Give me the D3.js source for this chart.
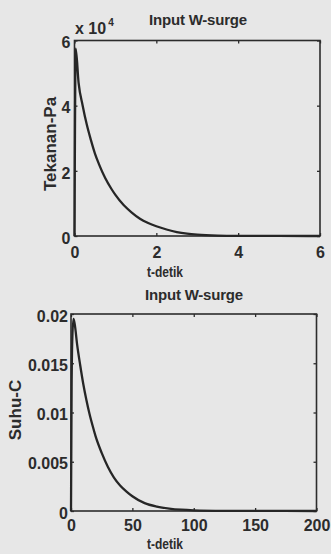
<!DOCTYPE html>
<html>
<head>
<meta charset="utf-8">
<script src="https://cdn.jsdelivr.net/npm/d3@7"></script>
<style>
  html, body { margin: 0; padding: 0; background: #e7e7e7; }
  svg { display: block; }
  text { font-family: "Liberation Sans", Arial, sans-serif; font-weight: bold; fill: #2c2c2c; }
</style>
</head>
<body>
<svg id="chart" width="331" height="554"></svg>
<script>
// Pressure response (Pa) to the W-surge input, time in seconds
const pressureTime = [0, 0.03, 0.1, 0.2, 0.3, 0.4, 0.5, 0.6, 0.75, 0.9, 1.0, 1.2, 1.4, 1.6, 1.8, 2.0, 2.25, 2.5, 2.75, 3.0, 3.5, 4.0, 5.0, 6.0];
const pressureValue = [0, 57500, 47000, 40000, 34200, 29500, 25300, 22000, 17800, 14500, 12600, 9500, 7200, 5300, 4000, 3000, 2000, 1200, 700, 400, 120, 40, 10, 0];
const pressureXTicks = [0, 2, 4, 6];
const pressureYTicks = [0, 20000, 40000, 60000];

// Temperature response (C) to the W-surge input, time in seconds
const tempTime = [0, 0.5, 1, 2, 3, 5, 7.5, 10, 12.5, 15, 17.5, 20, 25, 30, 35, 40, 45, 50, 60, 70, 80, 90, 100, 125, 150, 200];
const tempValue = [0, 0.0125, 0.0172, 0.0195, 0.019, 0.0169, 0.0148, 0.0129, 0.0113, 0.0099, 0.0087, 0.0076, 0.0059, 0.0045, 0.0034, 0.0026, 0.0020, 0.0015, 0.0008, 0.00045, 0.00025, 0.00013, 0.00007, 0.00002, 0.00001, 0];
const tempXTicks = [0, 50, 100, 150, 200];
const tempYTicks = [0, 0.005, 0.01, 0.015, 0.02];

const titleText = "Input W-surge";
const xLabelText = "t-detik";

const svg = d3.select("#chart");
const ink = "#2c2c2c";

function drawPanel(cfg) {
  const x = d3.scaleLinear().domain(cfg.xDomain).range([cfg.left, cfg.right]);
  const y = d3.scaleLinear().domain(cfg.yDomain).range([cfg.bottom, cfg.top]);
  const g = svg.append("g");

  // inward ticks on all four sides, labels on bottom and left only
  const bottomAxis = d3.axisBottom(x).tickValues(cfg.xTicks).tickSizeInner(-3).tickSizeOuter(0)
    .tickPadding(cfg.xPad).tickFormat(d => String(d));
  const leftAxis = d3.axisLeft(y).tickValues(cfg.yTicks).tickSizeInner(-3).tickSizeOuter(0)
    .tickPadding(cfg.yPad).tickFormat(cfg.yFormat);
  const topAxis = d3.axisTop(x).tickValues(cfg.xTicks).tickSizeInner(-3).tickSizeOuter(0).tickFormat("");
  const rightAxis = d3.axisRight(y).tickValues(cfg.yTicks).tickSizeInner(-3).tickSizeOuter(0).tickFormat("");

  g.append("g").attr("transform", `translate(0,${cfg.bottom})`).call(bottomAxis);
  const gl = g.append("g").attr("transform", `translate(${cfg.left},0)`).call(leftAxis);
  g.append("g").attr("transform", `translate(0,${cfg.top})`).call(topAxis);
  g.append("g").attr("transform", `translate(${cfg.right},0)`).call(rightAxis);

  g.selectAll(".domain").remove();
  g.selectAll(".tick line").attr("stroke", ink).attr("stroke-width", 1.3);
  g.selectAll(".tick text").attr("fill", ink).attr("font-size", 16)
    .attr("font-family", "Liberation Sans, Arial, sans-serif").attr("font-weight", "bold");
  gl.selectAll(".tick text").attr("dy", "0.45em");

  // axes box
  g.append("rect")
    .attr("x", cfg.left).attr("y", cfg.top)
    .attr("width", cfg.right - cfg.left).attr("height", cfg.bottom - cfg.top)
    .attr("fill", "none").attr("stroke", ink).attr("stroke-width", 1.6);

  // response curve
  const line = d3.line().x(d => x(d[0])).y(d => y(d[1])).curve(d3.curveMonotoneX);
  g.append("path")
    .datum(cfg.xs.map((t, i) => [t, cfg.ys[i]]))
    .attr("d", line)
    .attr("fill", "none").attr("stroke", "#262626").attr("stroke-width", 2.3)
    .attr("stroke-linejoin", "round");

  // title
  g.append("text").attr("x", cfg.titleX).attr("y", cfg.titleY)
    .attr("text-anchor", "middle").attr("font-size", 15).attr("letter-spacing", -0.2)
    .text(titleText);

  // x label
  g.append("text").attr("x", cfg.xLabelX).attr("y", cfg.xLabelY)
    .attr("text-anchor", "middle").attr("font-size", 15)
    .attr("textLength", 36).attr("lengthAdjust", "spacingAndGlyphs")
    .text(xLabelText);

  // y label
  g.append("text")
    .attr("transform", `translate(${cfg.yLabelX},${cfg.yLabelY}) rotate(-90)`)
    .attr("text-anchor", "middle").attr("font-size", 17)
    .text(cfg.yLabel);

  return g;
}

const pressurePanel = drawPanel({
  left: 74.5, right: 320, top: 40.5, bottom: 236,
  xDomain: [0, 6], yDomain: [0, 60000],
  xTicks: pressureXTicks, yTicks: pressureYTicks,
  yFormat: d => String(d / 1e4),
  xPad: 11, yPad: 4,
  xs: pressureTime, ys: pressureValue,
  titleX: 198, titleY: 25,
  xLabelX: 165, xLabelY: 277,
  yLabelX: 56, yLabelY: 144, yLabel: "Tekanan-Pa"
});

// exponent label for the pressure axis
const expo = pressurePanel.append("text").attr("x", 75).attr("y", 34).attr("font-size", 16);
expo.append("tspan").text("x 10");
expo.append("tspan").attr("font-size", 10).attr("dx", 2).attr("dy", -8).text("4");

drawPanel({
  left: 71, right: 316.5, top: 314, bottom: 511,
  xDomain: [0, 200], yDomain: [0, 0.02],
  xTicks: tempXTicks, yTicks: tempYTicks,
  yFormat: d => String(d),
  xPad: 9, yPad: 3,
  xs: tempTime, ys: tempValue,
  titleX: 194, titleY: 299.5,
  xLabelX: 165, xLabelY: 549,
  yLabelX: 21, yLabelY: 410, yLabel: "Suhu-C"
});
</script>
</body>
</html>
